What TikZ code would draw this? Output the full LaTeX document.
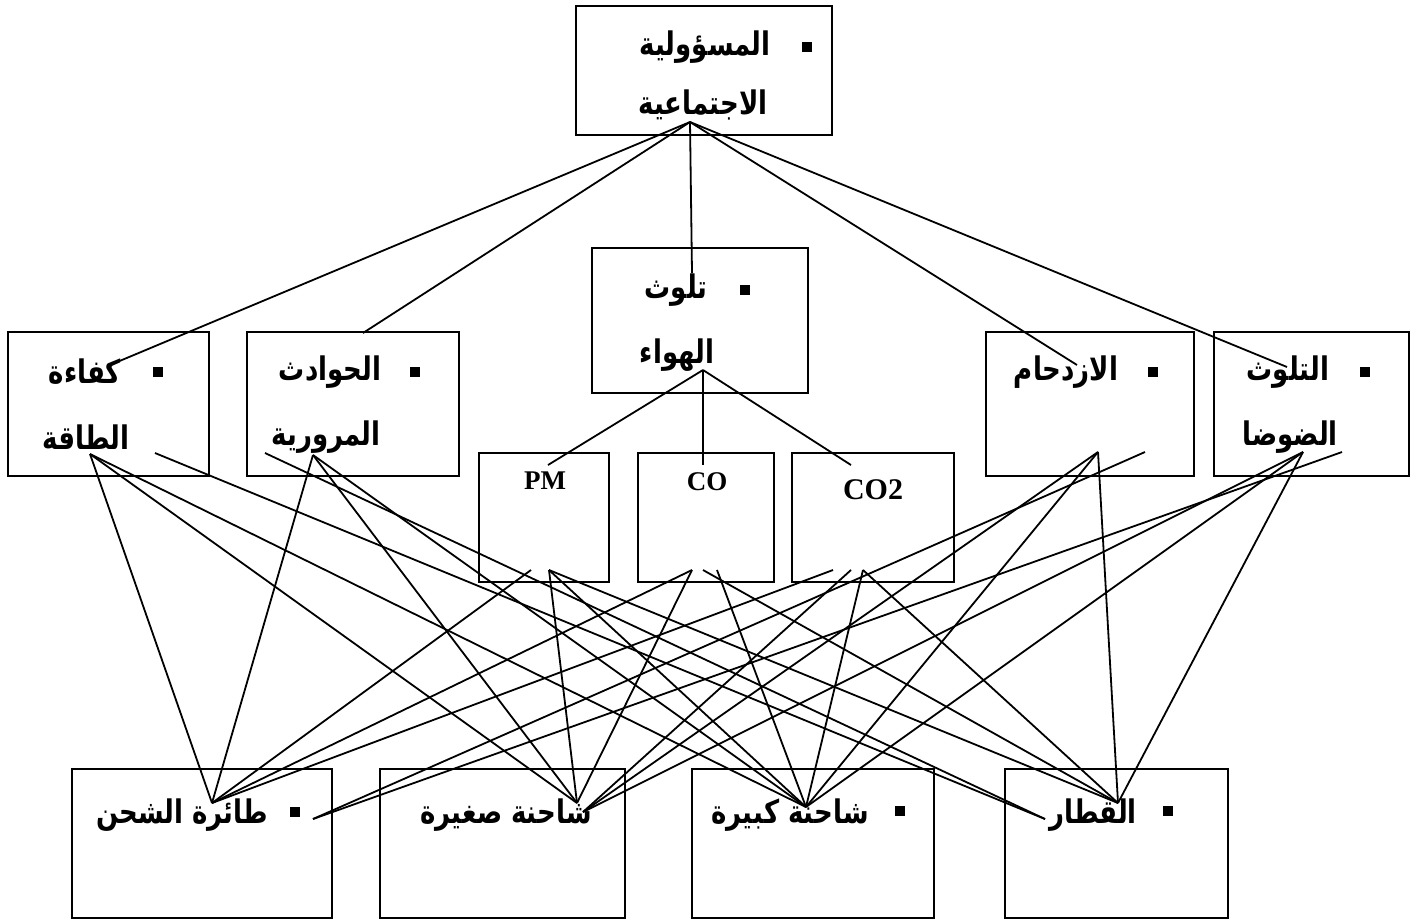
\documentclass[tikz,border=0pt]{standalone}
\usepackage{fontspec}
\usepackage{graphicx}
\TeXXeTstate=1
\newfontfamily\arabicfont[Script=Arabic]{DejaVu Sans}
\newfontfamily\latinfont{Liberation Serif}
\newcommand{\artxt}[1]{\scalebox{1}[1.25]{\beginR #1\endR}}
\begin{document}
\begin{tikzpicture}[x=1pt,y=-1pt,
  box/.style={draw,line width=2pt,inner sep=0pt,outer sep=0pt},
  conn/.style={line width=1.8pt},
  ar/.style={inner sep=0pt,font=\arabicfont\bfseries\fontsize{26}{30}\selectfont},
  lt/.style={inner sep=0pt,font=\latinfont\bfseries\fontsize{27}{30}\selectfont},
  bul/.style={fill=black,inner sep=0pt,minimum size=10pt}]
\useasboundingbox (0,0) rectangle (1421,922);
% boxes
\node[box,minimum width=256pt,minimum height=129pt] (goal) at (704,70.5) {};
\node[box,minimum width=201pt,minimum height=144pt] (eff) at (108.5,404) {};
\node[box,minimum width=212pt,minimum height=144pt] (acc) at (353,404) {};
\node[box,minimum width=216pt,minimum height=145pt] (air) at (700,320.5) {};
\node[box,minimum width=208pt,minimum height=144pt] (con) at (1090,404) {};
\node[box,minimum width=195pt,minimum height=144pt] (noi) at (1311.5,404) {};
\node[box,minimum width=130pt,minimum height=129pt] (pm) at (544,517.5) {};
\node[box,minimum width=136pt,minimum height=129pt] (co) at (706,517.5) {};
\node[box,minimum width=162pt,minimum height=129pt] (coo) at (873,517.5) {};
\node[box,minimum width=260pt,minimum height=149pt] (pl) at (202,843.5) {};
\node[box,minimum width=245pt,minimum height=149pt] (sm) at (502.5,843.5) {};
\node[box,minimum width=242pt,minimum height=149pt] (bg) at (813,843.5) {};
\node[box,minimum width=223pt,minimum height=149pt] (tr) at (1116.5,843.5) {};
% texts
\node[ar] (goalA) at (705,47) {\artxt{المسؤولية}};
\node[ar] (goalB) at (703,105) {\artxt{الاجتماعية}};
\node[bul] (goalK) at (807,47) {};
\node[ar] (effA) at (85,372) {\artxt{كفاءة}};
\node[ar] (effB) at (86,437) {\artxt{الطاقة}};
\node[bul] (effK) at (158,372) {};
\node[ar] (accA) at (330,372) {\artxt{الحوادث}};
\node[ar] (accB) at (326,437) {\artxt{المرورية}};
\node[bul] (accK) at (415,372) {};
\node[ar] (airA) at (676,290) {\artxt{تلوث}};
\node[ar] (airB) at (677,355) {\artxt{الهواء}};
\node[bul] (airK) at (745,290) {};
\node[ar] (conA) at (1066,372) {\artxt{الازدحام}};
\node[bul] (conK) at (1153,372) {};
\node[ar] (noiA) at (1288,372) {\artxt{التلوث}};
\node[ar] (noiB) at (1290,437) {\artxt{الضوضا}};
\node[bul] (noiK) at (1365,372) {};
\node[lt] (pmA) at (545,481) {PM};
\node[lt] (coA) at (707,482) {CO};
\node[lt,font=\latinfont\bfseries\fontsize{30}{32}\selectfont] (cooA) at (873,490) {CO2};
\node[ar] (plA) at (182,815) {\artxt{طائرة الشحن}};
\node[bul] (plK) at (295,812) {};
\node[ar] (smA) at (506,815) {\artxt{شاحنة صغيرة}};
\node[ar] (bgA) at (790,815) {\artxt{شاحنة كبيرة}};
\node[bul] (bgK) at (900,811) {};
\node[ar] (trA) at (1093,815) {\artxt{القطار}};
\node[bul] (trK) at (1168,811) {};
% connector end points
\coordinate (g0) at (690,122);
\coordinate (kA) at (110,365);
\coordinate (hA) at (363,333);
\coordinate (aA) at (692,273);
\coordinate (zA) at (1077,365);
\coordinate (nA) at (1287,367);
\coordinate (a0) at (703,370);
\coordinate (pT) at (548,465);
\coordinate (cT) at (703,465);
\coordinate (dT) at (851,465);
\coordinate (k1) at (90,454);
\coordinate (k2) at (155,453);
\coordinate (h1) at (313,455);
\coordinate (h2) at (265,453);
\coordinate (p1) at (531,570);
\coordinate (p2) at (549,570);
\coordinate (c1) at (692,570);
\coordinate (c2) at (703,570);
\coordinate (c3) at (717,570);
\coordinate (d1) at (833,570);
\coordinate (d2) at (851,570);
\coordinate (d3) at (863,570);
\coordinate (z1) at (1098,452);
\coordinate (z2) at (1145,452);
\coordinate (n1) at (1303,452);
\coordinate (n2) at (1342,452);
\coordinate (T1) at (212,803);
\coordinate (T2) at (313,819);
\coordinate (S1) at (577,803);
\coordinate (S2) at (583,812);
\coordinate (K1) at (806,807);
\coordinate (R1) at (1118,803);
\coordinate (R2) at (1045,819);
% connectors
\draw[conn] (g0) -- (kA);
\draw[conn] (g0) -- (hA);
\draw[conn] (g0) -- (aA);
\draw[conn] (g0) -- (zA);
\draw[conn] (g0) -- (nA);
\draw[conn] (a0) -- (pT);
\draw[conn] (a0) -- (cT);
\draw[conn] (a0) -- (dT);
\draw[conn] (k1) -- (T1);
\draw[conn] (k1) -- (S1);
\draw[conn] (k1) -- (K1);
\draw[conn] (k2) -- (R2);
\draw[conn] (h1) -- (T1);
\draw[conn] (h1) -- (S1);
\draw[conn] (h1) -- (K1);
\draw[conn] (h2) -- (R2);
\draw[conn] (p1) -- (T1);
\draw[conn] (p2) -- (S1);
\draw[conn] (p2) -- (K1);
\draw[conn] (p2) -- (R1);
\draw[conn] (c1) -- (T1);
\draw[conn] (c1) -- (S1);
\draw[conn] (c2) -- (R1);
\draw[conn] (c3) -- (K1);
\draw[conn] (d1) -- (T1);
\draw[conn] (d2) -- (S2);
\draw[conn] (d3) -- (K1);
\draw[conn] (d3) -- (R1);
\draw[conn] (z1) -- (S2);
\draw[conn] (z1) -- (K1);
\draw[conn] (z1) -- (R1);
\draw[conn] (z2) -- (T2);
\draw[conn] (n1) -- (S2);
\draw[conn] (n1) -- (K1);
\draw[conn] (n1) -- (R1);
\draw[conn] (n2) -- (T2);
\end{tikzpicture}
\end{document}
